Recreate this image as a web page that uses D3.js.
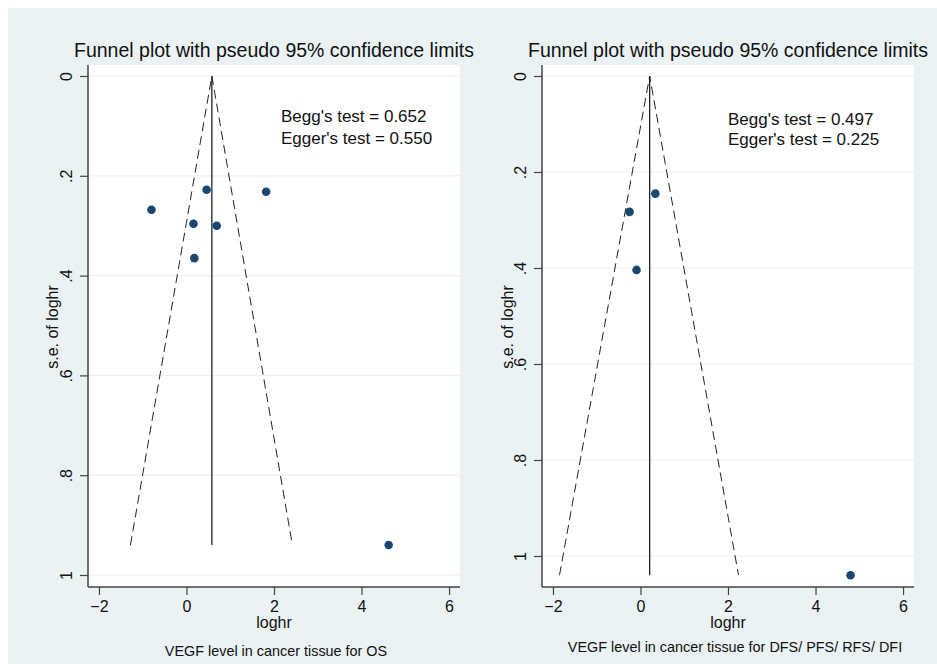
<!DOCTYPE html>
<html>
<head>
<meta charset="utf-8">
<script src="https://cdn.jsdelivr.net/npm/d3@7"></script>
<style>
  body { margin: 0; background: #fff; }
  svg { display: block; font-family: "Liberation Sans", Arial, sans-serif; }
</style>
</head>
<body>
<svg id="chart" width="937" height="664"></svg>
<script>
// data
var xTicks = [-2, 0, 2, 4, 6];
var yTicks = [0, 0.2, 0.4, 0.6, 0.8, 1];
var yTickLabels = ["0", ".2", ".4", ".6", ".8", "1"];

// VEGF for OS
var osLoghr = [-0.80, 0.46, 1.82, 0.16, 0.69, 0.18, 4.62];
var osSe    = [0.268, 0.228, 0.232, 0.296, 0.300, 0.365, 0.94];
var osPooled = 0.58;
var osLimits = [-1.28, 2.42];   // pseudo 95% limits at max se
var osSeMax = 0.94;
var osTests = ["Begg's test = 0.652", "Egger's test = 0.550"];

// VEGF for DFS/PFS/RFS/DFI
var dfsLoghr = [0.34, -0.25, -0.09, 4.80];
var dfsSe    = [0.245, 0.283, 0.404, 1.04];
var dfsPooled = 0.21;
var dfsLimits = [-1.85, 2.24];
var dfsSeMax = 1.04;
var dfsTests = ["Begg's test = 0.497", "Egger's test = 0.225"];

var bgColor = "#eaf2f3",
    markColor = "#1a476f",
    inkColor = "#111";

var svg = d3.select("#chart");

svg.append("rect")
  .attr("x", 8).attr("y", 8)
  .attr("width", 937 - 8).attr("height", 664 - 8)
  .attr("fill", bgColor);

function funnel(p) {
  var x = d3.scaleLinear().domain([-2.25, 6.25]).range([p.left, p.right]);
  var y = d3.scaleLinear().domain([0, 1]).range([76, p.yOne]);
  var top = 65, bottom = 587;

  var g = svg.append("g");

  g.append("rect")
    .attr("x", p.left).attr("y", top)
    .attr("width", p.right - p.left).attr("height", bottom - top)
    .attr("fill", "#fff");

  // grid
  g.selectAll(".grid")
    .data(yTicks)
    .enter().append("line")
    .attr("x1", p.left).attr("x2", p.right)
    .attr("y1", function(d) { return y(d); })
    .attr("y2", function(d) { return y(d); })
    .attr("stroke", bgColor)
    .attr("stroke-width", 1.2);

  // y axis
  var ya = g.append("g")
    .attr("transform", "translate(" + p.left + ",0)")
    .call(d3.axisLeft(y).tickValues(yTicks).tickSize(8).tickSizeOuter(0)
      .tickFormat(function(d, i) { return yTickLabels[i]; }));
  ya.select(".domain").remove();
  ya.selectAll("line").attr("stroke", "#444").attr("stroke-width", 1.2);
  ya.selectAll("text")
    .attr("transform", "rotate(-90)")
    .attr("x", 0).attr("y", -16).attr("dy", null)
    .attr("text-anchor", "middle")
    .attr("fill", inkColor)
    .style("font-size", "16px");

  // x axis
  var xa = g.append("g")
    .attr("transform", "translate(0," + bottom + ")")
    .call(d3.axisBottom(x).tickValues(xTicks).tickSize(8).tickSizeOuter(0));
  xa.select(".domain").remove();
  xa.selectAll("line").attr("stroke", "#444").attr("stroke-width", 1.2);
  xa.selectAll("text")
    .attr("y", 25).attr("dy", null)
    .attr("fill", inkColor)
    .style("font-size", "16px");

  // axis lines
  g.append("line")
    .attr("x1", p.left).attr("x2", p.left)
    .attr("y1", top).attr("y2", bottom)
    .attr("stroke", "#444").attr("stroke-width", 1.5);
  g.append("line")
    .attr("x1", p.left).attr("x2", p.right)
    .attr("y1", bottom).attr("y2", bottom)
    .attr("stroke", "#444").attr("stroke-width", 1.5);

  // pseudo 95% limits
  var line = d3.line()
    .x(function(d) { return x(d[0]); })
    .y(function(d) { return y(d[1]); });
  g.append("path")
    .attr("d", line([[p.limits[0], p.seMax], [p.pooled, 0], [p.limits[1], p.seMax]]))
    .attr("fill", "none")
    .attr("stroke", "#222")
    .attr("stroke-width", 1)
    .attr("stroke-dasharray", "9,5");
  g.append("path")
    .attr("d", line([[p.pooled, 0], [p.pooled, p.seMax]]))
    .attr("stroke", "#222")
    .attr("stroke-width", 1.3);

  // studies
  g.selectAll(".pt")
    .data(p.loghr)
    .enter().append("circle")
    .attr("cx", function(d) { return x(d); })
    .attr("cy", function(d, i) { return y(p.se[i]); })
    .attr("r", 4.3)
    .attr("fill", markColor);

  // titles
  var cx = (p.left + p.right) / 2;
  g.append("text")
    .attr("x", cx).attr("y", 57)
    .attr("text-anchor", "middle")
    .attr("fill", inkColor)
    .style("font-size", "19.5px")
    .text("Funnel plot with pseudo 95% confidence limits");

  g.append("text")
    .attr("transform", "translate(" + p.yTitleX + ",327) rotate(-90)")
    .attr("text-anchor", "middle")
    .attr("fill", inkColor)
    .style("font-size", "16px")
    .text("s.e. of loghr");

  g.append("text")
    .attr("x", cx).attr("y", 628)
    .attr("text-anchor", "middle")
    .attr("fill", inkColor)
    .style("font-size", "16px")
    .text("loghr");

  g.append("text")
    .attr("x", p.capX).attr("y", p.capY)
    .attr("text-anchor", "middle")
    .attr("fill", inkColor)
    .style("font-size", "14.4px")
    .text(p.caption);

  g.selectAll(".test")
    .data(p.tests)
    .enter().append("text")
    .attr("x", p.testX)
    .attr("y", function(d, i) { return p.testY[i]; })
    .attr("fill", inkColor)
    .style("font-size", "17px")
    .text(function(d) { return d; });
}

funnel({
  left: 88, right: 460, yOne: 575,
  loghr: osLoghr, se: osSe, pooled: osPooled, limits: osLimits, seMax: osSeMax,
  tests: osTests, testX: 281, testY: [121.5, 143.5],
  yTitleX: 58, capX: 276, capY: 656,
  caption: "VEGF level in cancer tissue for OS"
});

funnel({
  left: 542, right: 914, yOne: 556,
  loghr: dfsLoghr, se: dfsSe, pooled: dfsPooled, limits: dfsLimits, seMax: dfsSeMax,
  tests: dfsTests, testX: 728, testY: [125, 145],
  yTitleX: 513, capX: 735, capY: 652,
  caption: "VEGF level in cancer tissue for DFS/ PFS/ RFS/ DFI"
});
</script>
</body>
</html>
